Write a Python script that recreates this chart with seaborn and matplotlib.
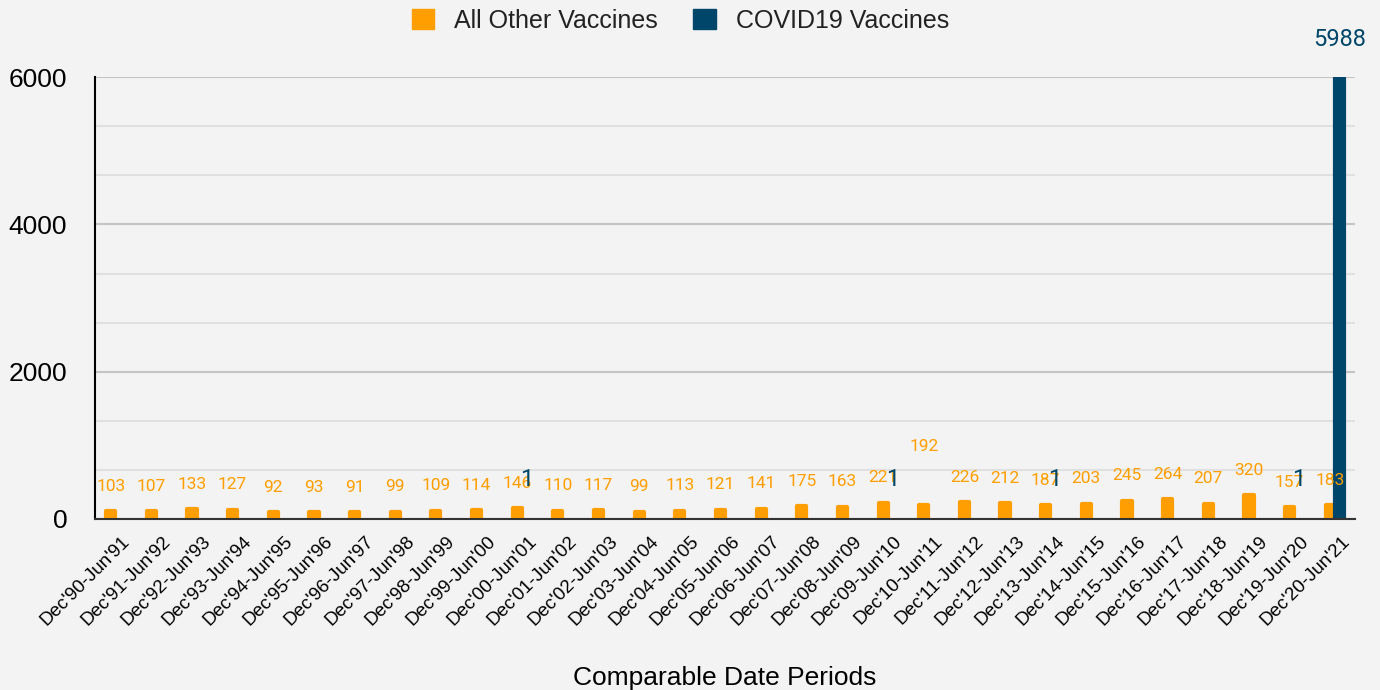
import matplotlib.pyplot as plt
import matplotlib.transforms as mtransforms
import numpy as np
import pandas as pd
import seaborn as sns
from matplotlib.patches import Patch
from matplotlib.ticker import MultipleLocator

# Data
periods = ["Dec'90-Jun'91", "Dec'91-Jun'92", "Dec'92-Jun'93", "Dec'93-Jun'94",
           "Dec'94-Jun'95", "Dec'95-Jun'96", "Dec'96-Jun'97", "Dec'97-Jun'98",
           "Dec'98-Jun'99", "Dec'99-Jun'00", "Dec'00-Jun'01", "Dec'01-Jun'02",
           "Dec'02-Jun'03", "Dec'03-Jun'04", "Dec'04-Jun'05", "Dec'05-Jun'06",
           "Dec'06-Jun'07", "Dec'07-Jun'08", "Dec'08-Jun'09", "Dec'09-Jun'10",
           "Dec'10-Jun'11", "Dec'11-Jun'12", "Dec'12-Jun'13", "Dec'13-Jun'14",
           "Dec'14-Jun'15", "Dec'15-Jun'16", "Dec'16-Jun'17", "Dec'17-Jun'18",
           "Dec'18-Jun'19", "Dec'19-Jun'20", "Dec'20-Jun'21"]
other_vaccines = [103, 107, 133, 127, 92, 93, 91, 99, 109, 114, 146, 110, 117, 99,
                  113, 121, 141, 175, 163, 221, 192, 226, 212, 187, 203, 245, 264,
                  207, 320, 157, 183]
nan = np.nan
covid_vaccines = [nan, nan, nan, nan, nan, nan, nan, nan, nan, nan, 1, nan, nan, nan,
                  nan, nan, nan, nan, nan, 1, nan, nan, nan, 1, nan, nan, nan,
                  nan, nan, 1, 5988]
series = ["All Other Vaccines", "COVID19 Vaccines"]
colors = ["#ff9e00", "#00466a"]
raised_labels = ["Dec'10-Jun'11"]

df = pd.DataFrame({
    "Period": periods * 2,
    "Series": [series[0]] * len(periods) + [series[1]] * len(periods),
    "Count": other_vaccines + covid_vaccines,
})

bg = "#f3f3f3"
sns.set_style("white")
plt.rcParams["font.family"] = ["Liberation Sans", "DejaVu Sans"]

fig, ax = plt.subplots(figsize=(13.8, 6.9), dpi=100)
fig.patch.set_facecolor(bg)
ax.set_facecolor(bg)
fig.subplots_adjust(left=0.0688, right=0.982, bottom=0.248, top=0.888)

sns.barplot(data=df, x="Period", y="Count", hue="Series", order=periods,
            hue_order=series, palette=colors, saturation=1, width=0.45, dodge=True,
            errorbar=None, legend=False, ax=ax)

# rounded bar caps (skip the tiny bars, which would show only as a stroke)
for cont, col in zip(ax.containers, colors):
    for p in cont:
        if p.get_height() > 20:
            p.set_edgecolor(col)
            p.set_linewidth(3)
            p.set_joinstyle("round")
        else:
            p.set_linewidth(0)

# data labels
for cont, name, col in zip(ax.containers, series, colors):
    for p in cont:
        h = p.get_height()
        if np.isnan(h):
            continue
        x = p.get_x() + p.get_width() / 2
        idx = int(round(x))
        if name == series[0]:
            off = 18 if periods[idx] not in raised_labels else 42
            ax.annotate(str(int(h)), (x, h), xytext=(0, off), textcoords="offset points",
                        ha="center", va="center", fontsize=12.5, color=col,
                        family=["Roboto", "DejaVu Sans"], zorder=5)
        else:
            ax.annotate(str(int(h)), (x, h), xytext=(0, 28), textcoords="offset points",
                        ha="center", va="center", fontsize=17, color=col,
                        family=["Roboto", "DejaVu Sans"], zorder=5)

ax.set_ylim(0, 6000)
ax.set_yticks([0, 2000, 4000, 6000])
ax.yaxis.set_minor_locator(MultipleLocator(2000 / 3))
ax.grid(axis="y", which="major", color="#c4c4c4", linewidth=1.5)
ax.grid(axis="y", which="minor", color="#e0e0e0", linewidth=1.5)
ax.set_axisbelow(True)

ax.tick_params(axis="y", which="major", direction="inout", length=18, width=1.5,
               labelsize=19, pad=11, color="black", labelcolor="black")
ax.tick_params(axis="y", which="minor", direction="inout", length=9, width=1.5, color="black")
ax.tick_params(axis="x", length=0, pad=10, labelsize=13.5, labelcolor="black")
shift = mtransforms.ScaledTranslation(6 / 100, 0, fig.dpi_scale_trans)
for lab in ax.get_xticklabels():
    lab.set_rotation(45)
    lab.set_ha("right")
    lab.set_rotation_mode("anchor")
    lab.set_transform(lab.get_transform() + shift)

for s in ["top", "right"]:
    ax.spines[s].set_visible(False)
ax.spines["left"].set_color("black")
ax.spines["left"].set_linewidth(1.5)
ax.spines["bottom"].set_color("#333333")
ax.spines["bottom"].set_linewidth(1.5)

ax.set_xlabel("Comparable Date Periods", fontsize=19, labelpad=27, color="black")
ax.set_ylabel("")

handles = [Patch(facecolor=c, edgecolor=c, label=n) for c, n in zip(colors, series)]
fig.legend(handles=handles, loc="upper center", bbox_to_anchor=(0.493, 1.02), ncol=2,
           frameon=False, fontsize=18, handlelength=0.9, handleheight=0.9,
           columnspacing=1.4, handletextpad=0.8, labelcolor="#222222")

plt.savefig("out.png", dpi=100, facecolor=bg)
